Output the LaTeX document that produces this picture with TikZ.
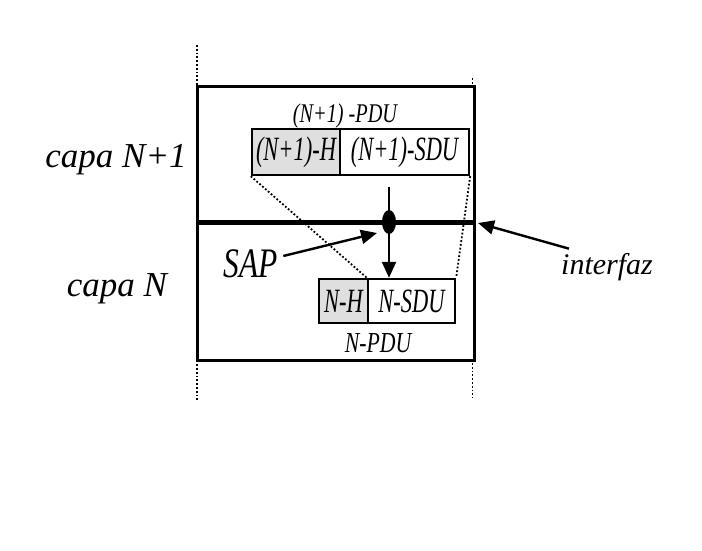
\documentclass[tikz,border=0pt]{standalone}
\usepackage{fontspec}
\setmainfont{Liberation Serif}
\newfontfamily\narrowit[FakeStretch=0.75]{Liberation Serif}
\newfontfamily\squeezeit[FakeStretch=0.66]{Liberation Serif}
\usetikzlibrary{arrows.meta,shapes.geometric}

\begin{document}
\begin{tikzpicture}[
  x=1pt, y=-1pt,
  lbl/.style={font=\fontsize{#1}{#1}\selectfont\itshape, inner sep=0pt, anchor=base},
  nlbl/.style={font=\fontsize{#1}{#1}\selectfont\narrowit\itshape, inner sep=0pt, anchor=base},
  pdu/.style={
    rectangle, draw, line width=2.4pt, fill=#1,
    inner sep=0pt, font=\fontsize{34}{34}\selectfont\squeezeit\itshape
  },
  frame/.style={line width=3pt},
  iface/.style={line width=5pt},
  guide/.style={dotted, line width=1.8pt},
  arr/.style={-{Triangle[length=16pt,width=14pt]}, line width=2.4pt}
]
\useasboundingbox (0,0) rectangle (702,551);

% vertical limits of the interface
\draw[guide] (197,45) -- (197,400);
\draw[guide] (472.5,78) -- (472.5,398);

% the two layers
\fill[white] (197,87) rectangle (474,360);
\draw[frame] (197,87) rectangle (474,360);
\coordinate (midL) at (197,222);
\coordinate (midR) at (474,222);
\draw[iface] (midL) -- (midR);

\node[lbl=35] (capaup) at (116,167) {capa N+1};
\node[lbl=35] (capadn) at (117,296) {capa N};

% upper PDU
\node[nlbl=27] (pduup) at (345,122) {(N+1) -PDU};
\node[pdu=gray!25, minimum width=88pt, minimum height=46pt] (hdrup) at (296,152) {(N+1)-H};
\node[pdu=white, minimum width=129pt, minimum height=46pt] (sduup) at (404.5,152) {(N+1)-SDU};

% lower PDU
\node[pdu=gray!25, minimum width=49pt, minimum height=44pt] (hdrdn) at (343.5,301) {N-H};
\node[pdu=white, minimum width=87pt, minimum height=44pt] (sdudn) at (411.5,301) {N-SDU};
\node[nlbl=29] (pdudn) at (378,352) {N-PDU};

\draw[guide] (hdrup.south west) -- (sdudn.north west);
\draw[guide] (sduup.south east) -- (sdudn.north east);

% service access point
\coordinate (downin) at (389,187);
\draw[arr] (downin) -- (downin |- sdudn.north);
\node[ellipse, fill, inner sep=0pt, minimum width=14pt, minimum height=24pt] (sapdot) at (389,222) {};

\node[nlbl=42] (saplbl) at (251,277) {SAP};
\draw[arr] ([shift={(5,7)}]saplbl.north east) -- ([shift={(-12,11)}]sapdot.center);

\node[lbl=30] (ifzlbl) at (607,274) {interfaz};
\draw[arr] ([shift={(8,-4)}]ifzlbl.north west) -- ([shift={(4,1)}]midR);
\end{tikzpicture}
\end{document}
